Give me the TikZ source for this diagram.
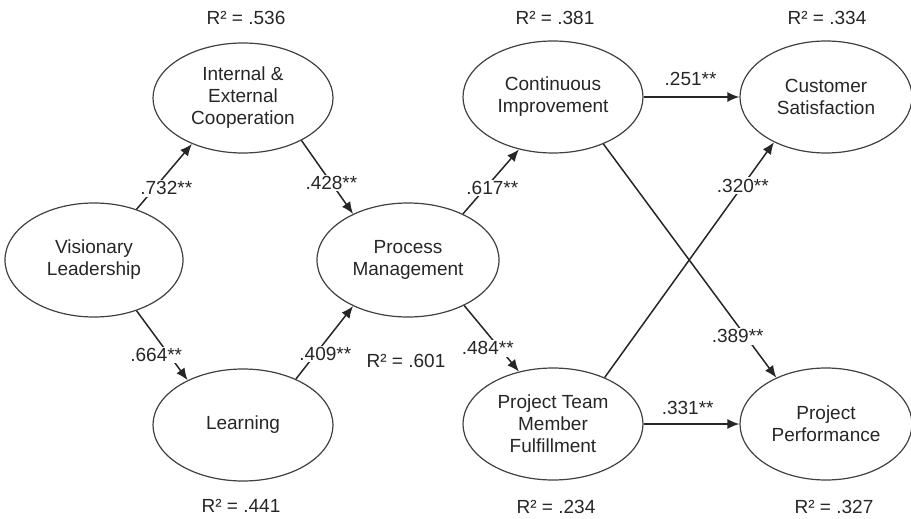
\documentclass[tikz,border=0pt]{standalone}
\usepackage{fontspec}
\setmainfont{Liberation Sans}
\usetikzlibrary{shapes.geometric,arrows.meta}

\begin{document}
\begin{tikzpicture}[x=1pt,y=-1pt,
	every node/.append style={font=\fontsize{19}{22}\selectfont, text=black!85},
	construct/.style={ellipse, draw=black!75, line width=1.2pt, minimum width=180pt,
		minimum height=112pt, inner sep=0pt, align=center},
	link/.style={-{Latex[length=12pt,width=10pt]}, line width=1.5pt, draw=black!85},
	coef/.style={fill=white, inner sep=1.5pt}]
\useasboundingbox (0,0) rectangle (911,519);

% constructs
\node[construct, minimum width=178pt, minimum height=114pt] (vl) at (94,260) {Visionary\\Leadership};
\node[construct, minimum height=110pt] (iec) at (243,98) {Internal \&\\External\\Cooperation};
\node[construct] (learn) at (243,425) {Learning};
\node[construct, minimum width=182pt, minimum height=114pt] (pm) at (408,260) {Process\\Management};
\node[construct] (ci) at (553,97) {Continuous\\Improvement};
\node[construct] (ptmf) at (553,424) {Project Team\\Member\\Fulfillment};
\node[construct, minimum width=172pt] (cs) at (826,97) {Customer\\Satisfaction};
\node[construct, minimum width=172pt] (pp) at (826,424) {Project\\Performance};

% explained variance
\node (r-iec) at (246,18) {R² = .536};
\node (r-ci) at (555,18) {R² = .381};
\node (r-cs) at (827,18) {R² = .334};
\node (r-learn) at (241,506) {R² = .441};
\node (r-pm) at (406,361) {R² = .601};
\node (r-ptmf) at (556,507) {R² = .234};
\node (r-pp) at (834,507) {R² = .327};

% paths
\draw[link] (vl.50.6) -- node[coef, pos=0.32, xshift=12pt] {.732**} (iec.222.7);
\draw[link] (iec.-36.7) -- node[coef, pos=0.58] {.428**} (pm.140.7);
\draw[link] (vl.-50.4) -- node[coef, pos=0.64, xshift=-13pt] {.664**} (learn.141.3);
\draw[link] (learn.41.1) -- node[coef, pos=0.34, xshift=10pt] {.409**} (pm.220.2);
\draw[link] (pm.40.5) -- node[coef, pos=0.4, xshift=7pt] {.617**} (ci.237);
\draw[link] (pm.-39.9) -- node[coef, pos=0.65, xshift=-12pt] {.484**} (ptmf.123.4);
\draw[link] (ci.0) -- node[pos=0.49, yshift=18pt] {.251**} (cs.180);
\draw[link] (ptmf.0) -- node[pos=0.46, yshift=16pt] {.331**} (pp.180);
\draw[link] (ptmf.42.7) -- node[coef, pos=0.816] {.320**} (cs.221);
\draw[link] (ci.-43.8) -- node[coef, pos=0.823, xshift=-8pt] {.389**} (pp.137.9);
\end{tikzpicture}
\end{document}
